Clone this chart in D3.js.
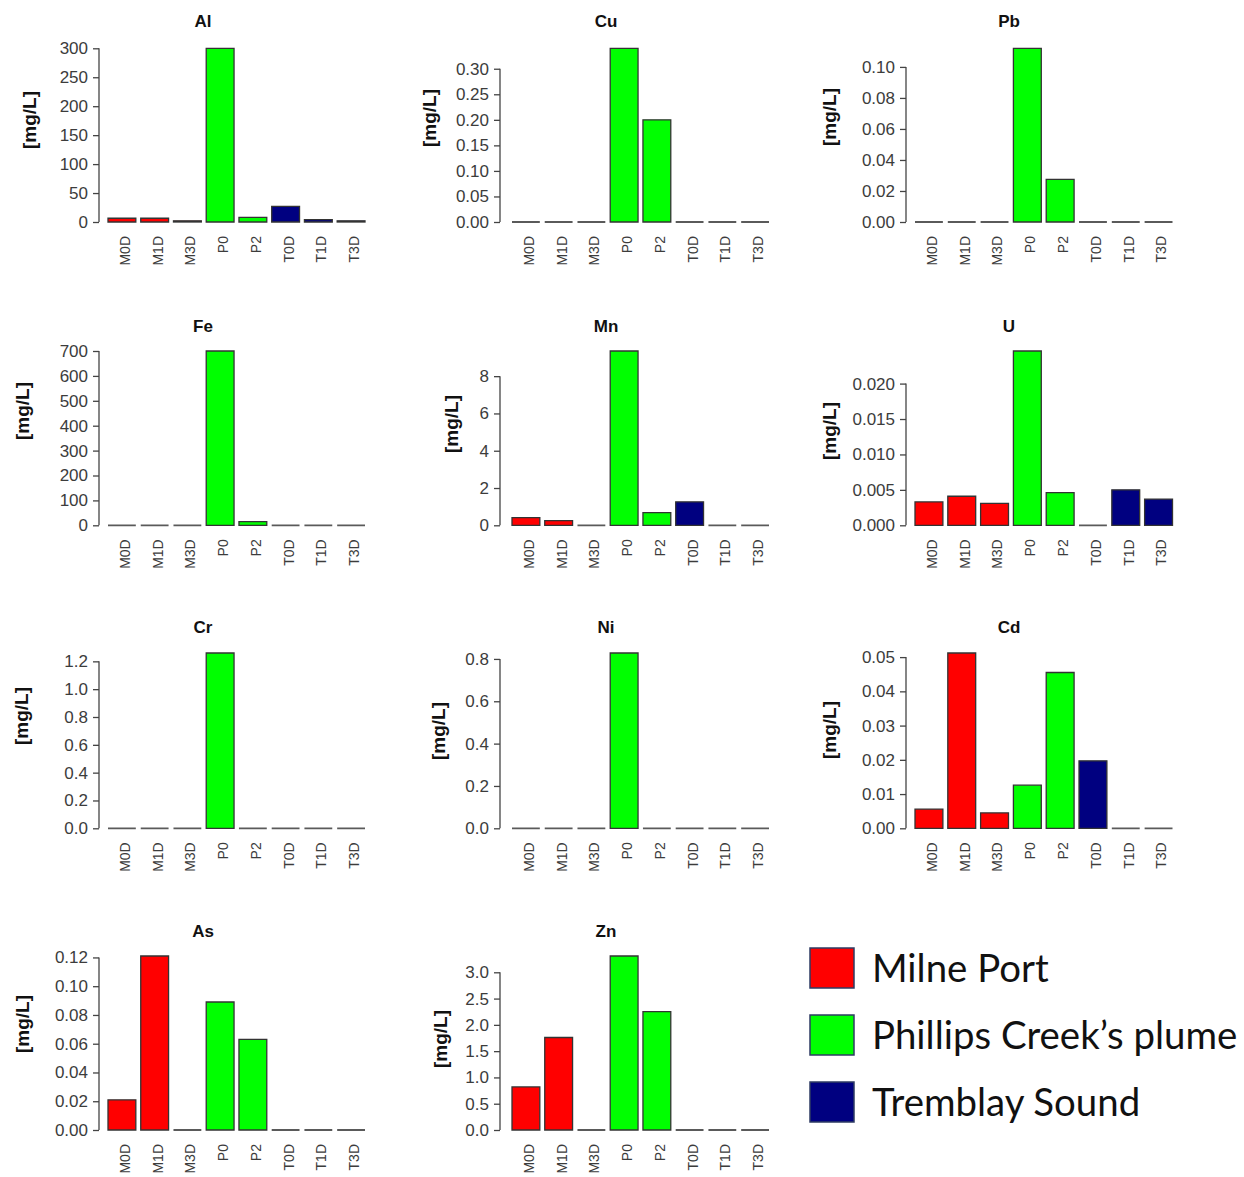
<!DOCTYPE html>
<html>
<head>
<meta charset="utf-8">
<script src="https://cdn.jsdelivr.net/npm/d3@7"></script>
<style>
  html, body { margin: 0; padding: 0; background: #ffffff; }
  svg { display: block; }
</style>
</head>
<body>
<svg id="chart" width="1244" height="1177"></svg>
<script>
// ---------------- DATA ----------------
const sites = ["M0D", "M1D", "M3D", "P0", "P2", "T0D", "T1D", "T3D"];
const siteGroups = ["Milne Port", "Milne Port", "Milne Port",
  "Phillips Creek’s plume", "Phillips Creek’s plume",
  "Tremblay Sound", "Tremblay Sound", "Tremblay Sound"];
const groupNames = ["Milne Port", "Phillips Creek’s plume", "Tremblay Sound"];
const elements = ["Al", "Cu", "Pb", "Fe", "Mn", "U", "Cr", "Ni", "Cd", "As", "Zn"];
const yAxisTitle = "[mg/L]";

const alValues = [6.5, 6.5, 2, 300, 8, 27, 4, 2];
const cuValues = [0, 0, 0, 0.34, 0.20, 0, 0, 0];
const pbValues = [0, 0, 0, 0.112, 0.0275, 0, 0, 0];
const feValues = [0, 0, 0, 700, 15, 0, 0, 0];
const mnValues = [0.41, 0.25, 0, 9.35, 0.68, 1.26, 0, 0];
const uValues  = [0.0033, 0.0041, 0.0031, 0.0246, 0.0046, 0, 0.0050, 0.0037];
const crValues = [0, 0, 0, 1.26, 0, 0, 0, 0];
const niValues = [0, 0, 0, 0.828, 0, 0, 0, 0];
const cdValues = [0.0056, 0.0512, 0.0045, 0.0126, 0.0455, 0.0197, 0, 0];
const asValues = [0.021, 0.121, 0, 0.089, 0.063, 0, 0, 0];
const znValues = [0.82, 1.76, 0, 3.31, 2.25, 0, 0, 0];

const alTicks = ["0", "50", "100", "150", "200", "250", "300"];
const cuTicks = ["0.00", "0.05", "0.10", "0.15", "0.20", "0.25", "0.30"];
const pbTicks = ["0.00", "0.02", "0.04", "0.06", "0.08", "0.10"];
const feTicks = ["0", "100", "200", "300", "400", "500", "600", "700"];
const mnTicks = ["0", "2", "4", "6", "8"];
const uTicks  = ["0.000", "0.005", "0.010", "0.015", "0.020"];
const crTicks = ["0.0", "0.2", "0.4", "0.6", "0.8", "1.0", "1.2"];
const niTicks = ["0.0", "0.2", "0.4", "0.6", "0.8"];
const cdTicks = ["0.00", "0.01", "0.02", "0.03", "0.04", "0.05"];
const asTicks = ["0.00", "0.02", "0.04", "0.06", "0.08", "0.10", "0.12"];
const znTicks = ["0.0", "0.5", "1.0", "1.5", "2.0", "2.5", "3.0"];

const valuesByElement = [alValues, cuValues, pbValues, feValues, mnValues, uValues,
  crValues, niValues, cdValues, asValues, znValues];
const ticksByElement = [alTicks, cuTicks, pbTicks, feTicks, mnTicks, uTicks,
  crTicks, niTicks, cdTicks, asTicks, znTicks];

// ---------------- LAYOUT / STYLE ----------------
const groupColors = ["#ff0000", "#00ff00", "#000080"];
const rowZero = [222, 525.3, 828.3, 1130];
const rowTop = [48.3, 351, 653, 956];
const titleBase = [27, 332, 633, 937];
const colAxisX = [99, 500, 906];
const colBars = [[108, 365], [512, 769], [915, 1172.5]];
const colTitleX = [203, 606, 1009];
// y-axis title centre per panel [x, y]
const ylabPos = [[29, 120], [429, 118], [829, 117],
                 [22, 411], [451, 424], [829, 431],
                 [21, 716], [438, 731], [829, 730],
                 [22, 1024], [440, 1039]];

const svg = d3.select("#chart");
const axisFont = "'Liberation Sans', Arial, Helvetica, sans-serif";
const color = d3.scaleOrdinal().domain(groupNames).range(groupColors);

elements.forEach((el, i) => {
  const row = Math.floor(i / 3), col = i % 3;
  const vals = valuesByElement[i];
  const ticks = ticksByElement[i];
  const tickVals = ticks.map(Number);
  const ymax = d3.max(vals);

  const x = d3.scaleBand().domain(sites).range(colBars[col])
    .paddingInner(0.15).paddingOuter(0);
  const y = d3.scaleLinear().domain([0, ymax]).range([rowZero[row], rowTop[row]]);

  const g = svg.append("g").attr("class", "panel");

  // bars (paths so that zero-height bars still draw as a line)
  g.selectAll("path.bar").data(sites.map((s, k) => ({ s, v: vals[k], grp: siteGroups[k] })))
    .enter().append("path")
    .attr("class", "bar")
    .attr("d", d => {
      const x0 = x(d.s), x1 = x(d.s) + x.bandwidth();
      return `M${x0},${y(d.v)}H${x1}V${y(0)}H${x0}Z`;
    })
    .attr("fill", d => color(d.grp))
    .attr("stroke", d => d.v === 0 ? "#5a5a5a" : "#333333")
    .attr("stroke-width", d => d.v === 0 ? 1.8 : 1.3);

  // y axis
  const axis = d3.axisLeft(y).tickValues(tickVals)
    .tickFormat((d, k) => ticks[k]).tickSize(6).tickPadding(5).tickSizeOuter(0);
  const ag = g.append("g").attr("transform", `translate(${colAxisX[col]},0)`).call(axis);
  ag.select(".domain").remove();
  ag.append("line")
    .attr("x1", 0).attr("x2", 0)
    .attr("y1", y(tickVals[0])).attr("y2", y(tickVals[tickVals.length - 1]))
    .attr("stroke", "#444").attr("stroke-width", 1.3);
  ag.selectAll(".tick line").attr("stroke", "#444").attr("stroke-width", 1.3);
  ag.selectAll(".tick text")
    .attr("fill", "#3c3c3c")
    .style("font-family", axisFont)
    .style("font-size", "17px");

  // x labels (rotated)
  g.selectAll("text.xlab").data(sites).enter().append("text")
    .attr("class", "xlab")
    .attr("transform", d => `translate(${x(d) + x.bandwidth() / 2 + 3},${y(0) + 14}) rotate(-90)`)
    .attr("text-anchor", "end")
    .attr("dy", "0.35em")
    .attr("fill", "#3c3c3c")
    .style("font-family", axisFont)
    .style("font-size", "14px")
    .text(d => d);

  // title
  g.append("text")
    .attr("x", colTitleX[col]).attr("y", titleBase[row])
    .attr("text-anchor", "middle")
    .attr("fill", "#111")
    .style("font-family", axisFont)
    .style("font-size", "17px").style("font-weight", "bold")
    .text(el);

  // y-axis title
  g.append("text")
    .attr("transform", `translate(${ylabPos[i][0]},${ylabPos[i][1]}) rotate(-90)`)
    .attr("text-anchor", "middle")
    .attr("dy", "0.35em")
    .attr("fill", "#111")
    .style("font-family", axisFont)
    .style("font-size", "19px").style("font-weight", "bold")
    .text(yAxisTitle);
});

// ---------------- LEGEND ----------------
const legendX = 810, legendY0 = 948, legendStep = 67, boxW = 44, boxH = 40;
const lg = svg.append("g").attr("class", "legend");
const items = lg.selectAll("g.item").data(groupNames).enter().append("g")
  .attr("class", "item")
  .attr("transform", (d, k) => `translate(${legendX},${legendY0 + k * legendStep})`);
items.append("rect")
  .attr("x", 0).attr("y", 0).attr("width", boxW).attr("height", boxH)
  .attr("fill", d => color(d))
  .attr("stroke", "#2e3b63").attr("stroke-width", 1.5);
const legTexts = items.append("text")
  .attr("x", 62).attr("y", 34)
  .attr("fill", "#111")
  .style("font-family", "Lato, 'Open Sans', sans-serif")
  .style("font-size", "36px")
  .text(d => d);
// fit font size so the longest label spans the reference width
let maxW = 0;
legTexts.each(function () { maxW = Math.max(maxW, this.getComputedTextLength()); });
if (maxW > 0) {
  const fs = 36 * 365 / maxW;
  legTexts.style("font-size", fs.toFixed(1) + "px");
}
</script>
</body>
</html>
